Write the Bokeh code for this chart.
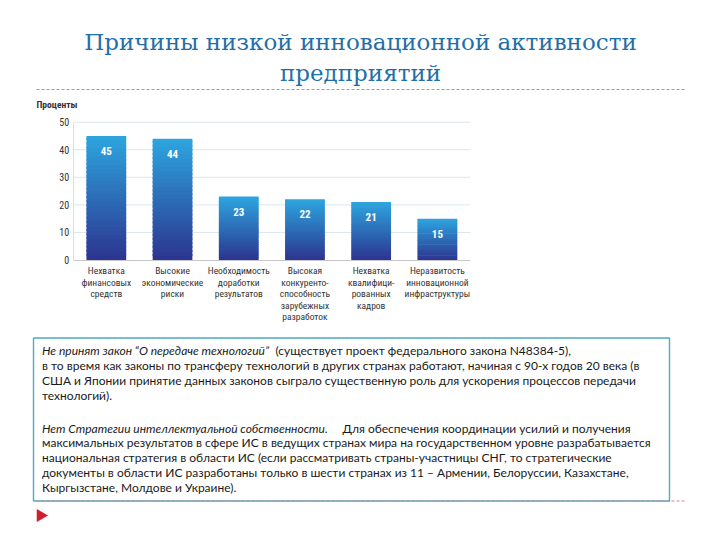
from bokeh.plotting import figure
from bokeh.models import Range1d, FixedTicker, LinearAxis
from bokeh.embed import file_html
from bokeh.resources import INLINE
from bokeh.core.properties import value

# ---------------- data ----------------
title_lines = ["Причины низкой инновационной активности", "предприятий"]
y_axis_title = "Проценты"
categories = [
    "Нехватка\nфинансовых\nсредств",
    "Высокие\nэкономические\nриски",
    "Необходимость\nдоработки\nрезультатов",
    "Высокая\nконкуренто-\nспособность\nзарубежных\nразработок",
    "Нехватка\nквалифици-\nрованных\nкадров",
    "Неразвитость\nинновационной\nинфраструктуры",
]
percent = [45, 44, 23, 22, 21, 15]
y_ticks = [0, 10, 20, 30, 40, 50]

para1 = [
    ("Не принят закон “О передаче технологий”", "(существует проект федерального закона N48384-5),"),
    ("", "в то время как законы по трансферу технологий в других странах работают, начиная с 90-х годов 20 века (в"),
    ("", "США и Японии принятие данных законов сыграло существенную роль для ускорения процессов передачи"),
    ("", "технологий)."),
]
para2 = [
    ("Нет Стратегии интеллектуальной собственности.", "Для обеспечения координации усилий и получения"),
    ("", "максимальных результатов в сфере ИС в ведущих странах мира на государственном уровне разрабатывается"),
    ("", "национальная стратегия в области ИС (если рассматривать страны-участницы СНГ, то стратегические"),
    ("", "документы в области ИС разработаны только в шести странах из 11 – Армении, Белоруссии, Казахстане,"),
    ("", "Кыргызстане, Молдове и Украине)."),
]

# ---------------- styles / layout ----------------
NARROW = "'Roboto Condensed', 'Liberation Sans Narrow', Roboto, sans-serif"
BODY = "Lato"
TITLE_COLOR = "#1f6fa8"
DASH_COLOR = "#d4858c"
TOP_RGB = (46, 166, 224)
BOT_RGB = (44, 53, 144)

W, H = 720, 540
# chart plot area on the page (pixels)
CH_LEFT, CH_RIGHT = 72.7, 470.0
CH_Y0, CH_Y50 = 259.5, 121.7
NCAT = len(categories)
PX_X = (CH_RIGHT - CH_LEFT) / NCAT
PX_Y = (CH_Y0 - CH_Y50) / 50.0


def dx(X):
    """page x pixel -> chart data x"""
    return -0.5 + (X - CH_LEFT) / PX_X


def dy(Y):
    """page y pixel -> chart data y"""
    return (CH_Y0 - Y) / PX_Y


p = figure(width=W, height=H, x_range=Range1d(dx(0), dx(W)), y_range=Range1d(dy(H), dy(0)),
           output_backend="svg", toolbar_location=None, title=None, min_border=0,
           x_axis_location=None, y_axis_location=None)
p.outline_line_color = None
p.grid.visible = False

idx = list(range(NCAT))

# grid lines
p.segment(x0=[-0.5] * (len(y_ticks) - 1), x1=[NCAT - 0.5] * (len(y_ticks) - 1),
          y0=y_ticks[1:], y1=y_ticks[1:], line_color="#d9e7ef", line_width=1)

# axes
yax = LinearAxis(fixed_location=-0.5, bounds=(0, 50), ticker=FixedTicker(ticks=y_ticks))
yax.axis_line_color = "#d3dfe7"
yax.major_tick_line_color = None
yax.minor_tick_line_color = None
yax.major_tick_out = 0
yax.major_label_standoff = 4
yax.major_label_text_font = NARROW
yax.major_label_text_font_size = "10px"
yax.major_label_text_color = "#333333"
p.add_layout(yax, "left")

xax = LinearAxis(fixed_location=0, bounds=(-0.5, NCAT - 0.5), ticker=FixedTicker(ticks=idx),
                 major_label_overrides={i: c for i, c in zip(idx, categories)})
xax.axis_line_color = "#c8c8c8"
xax.major_tick_line_color = None
xax.minor_tick_line_color = None
xax.major_tick_out = 0
xax.major_label_standoff = 5
xax.major_label_text_font = NARROW
xax.major_label_text_font_size = "9.5px"
xax.major_label_text_color = "#333333"
xax.major_label_text_line_height = 1.05
p.add_layout(xax, "below")

# gradient bars made of thin slices
n = 30
xs, bottoms, tops, colors = [], [], [], []
for i, v in zip(idx, percent):
    for k in range(n):
        t = (k + 0.5) / n
        r = int(BOT_RGB[0] + (TOP_RGB[0] - BOT_RGB[0]) * t)
        g = int(BOT_RGB[1] + (TOP_RGB[1] - BOT_RGB[1]) * t)
        b = int(BOT_RGB[2] + (TOP_RGB[2] - BOT_RGB[2]) * t)
        xs.append(i)
        bottoms.append(v * k / n)
        tops.append(min(v, v * (k + 1.5) / n))
        colors.append("#%02x%02x%02x" % (r, g, b))
p.vbar(x=xs, bottom=bottoms, top=tops, width=0.6, fill_color=colors, line_color=None)

p.text(x=idx, y=percent, text=[str(v) for v in percent], y_offset=15,
       text_font=value(NARROW), text_font_size="11px", text_font_style="bold",
       text_color="white", text_align="center", text_baseline="middle")

# ---------------- title & decorations ----------------
p.text(x=[dx(360)] * 2, y=[dy(41), dy(72)], text=title_lines, text_font=value("DejaVu Serif"),
       text_font_size="23px", text_color=TITLE_COLOR, text_align="center",
       text_baseline="middle")
p.line(x=[dx(36), dx(685)], y=[dy(89), dy(89)], line_color=DASH_COLOR, line_dash="3 2",
       line_width=1)
p.text(x=[dx(36)], y=[dy(104)], text=[y_axis_title], text_font=value(NARROW),
       text_font_size="9.5px", text_font_style="bold", text_color="#333333",
       text_align="left", text_baseline="middle")

p.quad(left=[dx(33)], right=[dx(669)], top=[dy(337.5)], bottom=[dy(500.5)], fill_color=None,
       line_color="#4bacc6", line_width=1.4)
p.line(x=[dx(36), dx(684)], y=[dy(500.5), dy(500.5)], line_color=DASH_COLOR,
       line_dash="3 2", line_width=1)
p.scatter(x=[dx(40)], y=[dy(515)], marker="triangle", size=13, angle=-1.5708,
          fill_color="#d01c2c", line_color=None)

FS = "12px"
x0 = 41.5
roman_x = {para1[0][0]: 275, para2[0][0]: 342}
for lines, y0, step in ((para1, 349.5, 15.0), (para2, 427.5, 14.8)):
    for i, (ital, rom) in enumerate(lines):
        Y = y0 + i * step
        if ital:
            p.text(x=[dx(x0)], y=[dy(Y)], text=[ital], text_font=value(BODY), text_font_size=FS,
                   text_font_style="italic", text_color="#1a1a1a", text_baseline="middle")
            p.text(x=[dx(roman_x[ital])], y=[dy(Y)], text=[rom], text_font=value(BODY),
                   text_font_size=FS, text_color="#1a1a1a", text_baseline="middle")
        else:
            p.text(x=[dx(x0)], y=[dy(Y)], text=[rom], text_font=value(BODY), text_font_size=FS,
                   text_color="#1a1a1a", text_baseline="middle")

open("out.html", "w").write(file_html(p, INLINE))
